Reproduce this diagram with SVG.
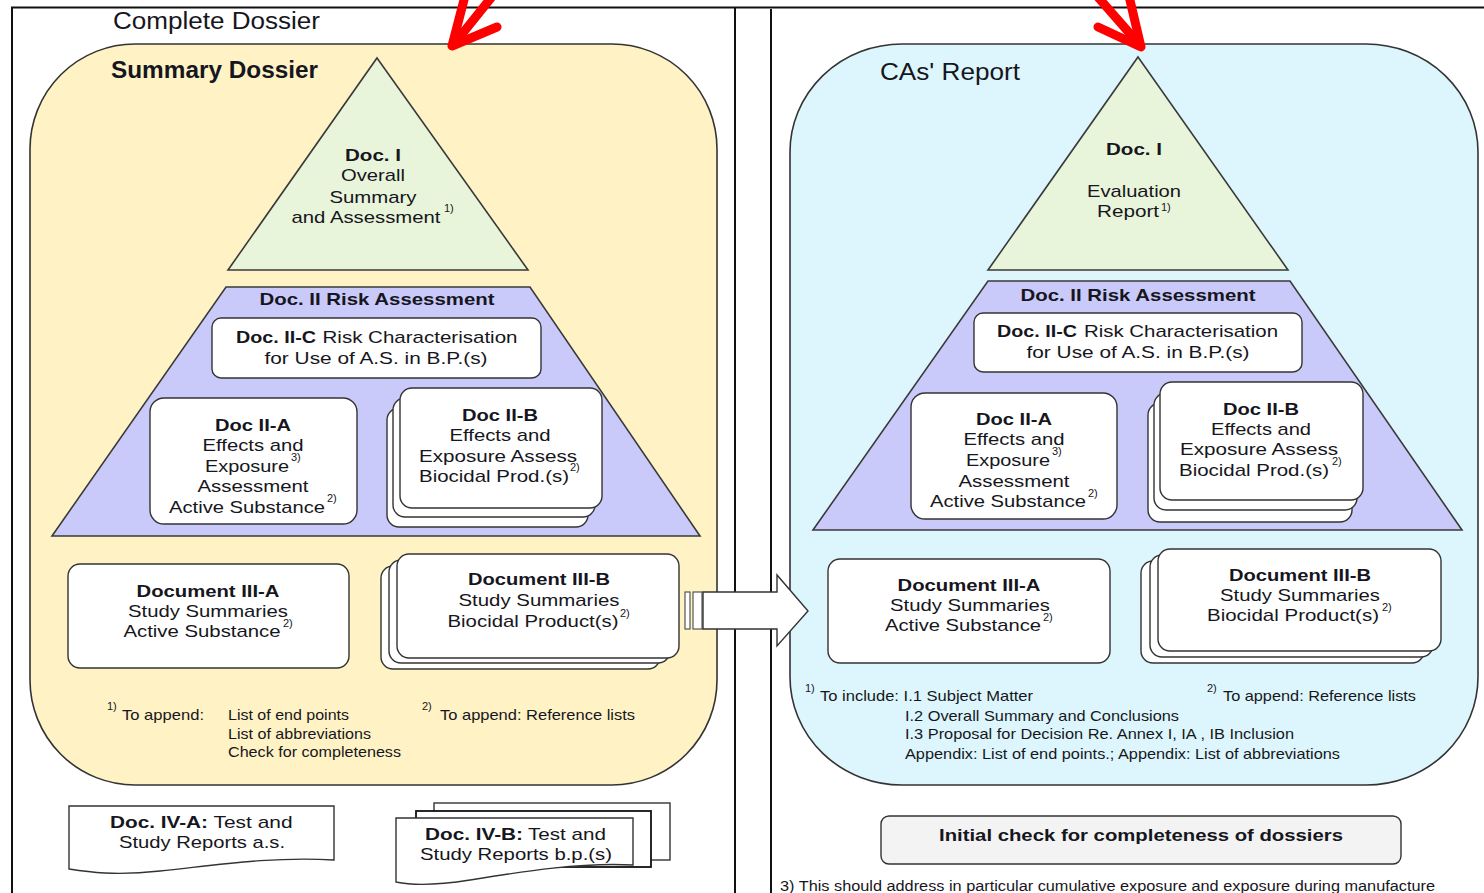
<svg xmlns="http://www.w3.org/2000/svg" width="1484" height="893" viewBox="0 0 1484 893">
<style>
text{font-family:"Liberation Sans",Arial,sans-serif;fill:#161620;}
.t{font-size:17px;text-anchor:middle;}
.b{font-weight:bold;}
.s{font-size:11px;}
.f{font-size:15px;}
.ttl{font-size:23px;}
.box{fill:#fff;stroke:#333;stroke-width:1.4;}
.tri{fill:#E9F5DA;stroke:#3a3a3a;stroke-width:1.6;}
.trap{fill:#CACAFA;stroke:#3a3a3a;stroke-width:1.6;}
.frame{stroke:#111;stroke-width:2;fill:none;}
.red{stroke:#FF0000;stroke-width:9;fill:none;stroke-linecap:round;stroke-linejoin:round;}
</style>
<rect width="1484" height="893" fill="#fff"/>
<g id="frames">
<path class="frame" d="M12,893 V7.5 H1484 M735,7.5 V893 M771,9 V893"/>
</g>
<g id="panel-left">
<text class="ttl" x="113" y="29" textLength="207" lengthAdjust="spacingAndGlyphs">Complete Dossier</text>
<rect x="30" y="44" width="687" height="741" rx="105" ry="105" fill="#FFF3C6" stroke="#333" stroke-width="1.6"/>
<text class="ttl b" x="111" y="78" textLength="207" lengthAdjust="spacingAndGlyphs">Summary Dossier</text>
</g>
<g id="doc1-left">
<polygon class="tri" points="377,58 528,270 228,270"/>
<text class="t b" x="373" y="161" textLength="56" lengthAdjust="spacingAndGlyphs">Doc. I</text>
<text class="t" x="373" y="181" textLength="64" lengthAdjust="spacingAndGlyphs">Overall</text>
<text class="t" x="373" y="203" textLength="87" lengthAdjust="spacingAndGlyphs">Summary</text>
<text class="t" x="366" y="223" textLength="149" lengthAdjust="spacingAndGlyphs">and Assessment</text>
<text class="s" x="444" y="212">1)</text>
</g>
<g id="doc2-left">
<polygon class="trap" points="226,287 530,287 700,536 52,536"/>
<text class="t b" x="377" y="305" textLength="235" lengthAdjust="spacingAndGlyphs">Doc. II Risk Assessment</text>
</g>
<g id="doc2c-left">
<rect class="box" x="212" y="318" width="329" height="60" rx="9"/>
<text class="t b" x="276" y="343" textLength="80" lengthAdjust="spacingAndGlyphs">Doc. II-C</text>
<text class="t" x="420" y="343" textLength="195" lengthAdjust="spacingAndGlyphs">Risk Characterisation</text>
<text class="t" x="376" y="364" textLength="223" lengthAdjust="spacingAndGlyphs">for Use of A.S. in B.P.(s)</text>
</g>
<g id="doc2a-left">
<rect class="box" x="150" y="398" width="207" height="126" rx="14"/>
<text class="t b" x="253" y="431" textLength="76" lengthAdjust="spacingAndGlyphs">Doc II-A</text>
<text class="t" x="253" y="451" textLength="101" lengthAdjust="spacingAndGlyphs">Effects and</text>
<text class="t" x="247" y="472" textLength="84" lengthAdjust="spacingAndGlyphs">Exposure</text>
<text class="s" x="291" y="461">3)</text>
<text class="t" x="253" y="492" textLength="111" lengthAdjust="spacingAndGlyphs">Assessment</text>
<text class="t" x="247" y="513" textLength="156" lengthAdjust="spacingAndGlyphs">Active Substance</text>
<text class="s" x="327" y="502">2)</text>
</g>
<g id="doc2b-left">
<rect class="box" x="387" y="408" width="201" height="119" rx="12"/>
<rect class="box" x="393" y="398" width="202" height="119" rx="12"/>
<rect class="box" x="400" y="388" width="202" height="120" rx="12"/>
<text class="t b" x="500" y="421" textLength="76" lengthAdjust="spacingAndGlyphs">Doc II-B</text>
<text class="t" x="500" y="441" textLength="101" lengthAdjust="spacingAndGlyphs">Effects and</text>
<text class="t" x="498" y="462" textLength="158" lengthAdjust="spacingAndGlyphs">Exposure Assess</text>
<text class="s" x="570" y="471">2)</text>
<text class="t" x="494" y="482" textLength="150" lengthAdjust="spacingAndGlyphs">Biocidal Prod.(s)</text>
</g>
<g id="doc3a-left">
<rect class="box" x="68" y="564" width="281" height="104" rx="12"/>
<text class="t b" x="208" y="597" textLength="143" lengthAdjust="spacingAndGlyphs">Document III-A</text>
<text class="t" x="208" y="617" textLength="160" lengthAdjust="spacingAndGlyphs">Study Summaries</text>
<text class="t" x="202" y="637" textLength="157" lengthAdjust="spacingAndGlyphs">Active Substance</text>
<text class="s" x="283" y="627">2)</text>
</g>
<g id="doc3b-left">
<rect class="box" x="381" y="566" width="279" height="103" rx="12"/>
<rect class="box" x="389" y="560" width="281" height="103" rx="12"/>
<rect class="box" x="397" y="554" width="282" height="104" rx="12"/>
<text class="t b" x="539" y="585" textLength="142" lengthAdjust="spacingAndGlyphs">Document III-B</text>
<text class="t" x="539" y="606" textLength="161" lengthAdjust="spacingAndGlyphs">Study Summaries</text>
<text class="t" x="533" y="627" textLength="171" lengthAdjust="spacingAndGlyphs">Biocidal Product(s)</text>
<text class="s" x="620" y="617">2)</text>
</g>
<g id="notes-left">
<text class="s" x="107" y="710">1)</text>
<text class="f" x="122" y="720" textLength="82" lengthAdjust="spacingAndGlyphs">To append:</text>
<text class="f" x="228" y="720" textLength="121" lengthAdjust="spacingAndGlyphs">List of end points</text>
<text class="f" x="228" y="739" textLength="143" lengthAdjust="spacingAndGlyphs">List of abbreviations</text>
<text class="f" x="228" y="757" textLength="173" lengthAdjust="spacingAndGlyphs">Check for completeness</text>
<text class="s" x="422" y="710">2)</text>
<text class="f" x="440" y="720" textLength="195" lengthAdjust="spacingAndGlyphs">To append: Reference lists</text>
</g>
<g id="doc4a">
<path class="box" d="M69,806 H334 V860 C270,856 210,866 160,871 C115,876 88,872 69,869 Z"/>
<text class="t b" x="159" y="828" textLength="98" lengthAdjust="spacingAndGlyphs">Doc. IV-A:</text>
<text class="t" x="253" y="828" textLength="79" lengthAdjust="spacingAndGlyphs">Test and</text>
<text class="t" x="202" y="848" textLength="166" lengthAdjust="spacingAndGlyphs">Study Reports a.s.</text>
</g>
<g id="doc4b">
<rect class="box" x="434" y="803" width="236" height="57"/>
<rect x="416" y="811" width="235" height="56" fill="#fff" stroke="#111" stroke-width="1.8"/>
<path class="box" d="M396,818 H633 V865 C580,862 520,872 470,880 C432,886 410,885 396,882 Z"/>
<text class="t b" x="474" y="840" textLength="98" lengthAdjust="spacingAndGlyphs">Doc. IV-B:</text>
<text class="t" x="567" y="840" textLength="78" lengthAdjust="spacingAndGlyphs">Test and</text>
<text class="t" x="516" y="860" textLength="192" lengthAdjust="spacingAndGlyphs">Study Reports b.p.(s)</text>
</g>
<g id="panel-right">
<rect x="790" y="44" width="688" height="741" rx="112" ry="108" fill="#DDF6FD" stroke="#333" stroke-width="1.6"/>
<text class="ttl" x="880" y="80" textLength="140" lengthAdjust="spacingAndGlyphs">CAs' Report</text>
</g>
<g id="doc1-right">
<polygon class="tri" points="1138,57 1288,270 988,270"/>
<text class="t b" x="1134" y="155" textLength="56" lengthAdjust="spacingAndGlyphs">Doc. I</text>
<text class="t" x="1134" y="197" textLength="94" lengthAdjust="spacingAndGlyphs">Evaluation</text>
<text class="t" x="1128" y="217" textLength="62" lengthAdjust="spacingAndGlyphs">Report</text>
<text class="s" x="1161" y="211">1)</text>
</g>
<g id="doc2-right">
<polygon class="trap" points="988,281 1290,281 1462,530 813,530"/>
<text class="t b" x="1138" y="301" textLength="235" lengthAdjust="spacingAndGlyphs">Doc. II Risk Assessment</text>
</g>
<g id="doc2c-right">
<rect class="box" x="974" y="313" width="328" height="59" rx="9"/>
<text class="t b" x="1037" y="337" textLength="80" lengthAdjust="spacingAndGlyphs">Doc. II-C</text>
<text class="t" x="1181" y="337" textLength="194" lengthAdjust="spacingAndGlyphs">Risk Characterisation</text>
<text class="t" x="1138" y="358" textLength="223" lengthAdjust="spacingAndGlyphs">for Use of A.S. in B.P.(s)</text>
</g>
<g id="doc2a-right">
<rect class="box" x="911" y="393" width="206" height="126" rx="14"/>
<text class="t b" x="1014" y="425" textLength="76" lengthAdjust="spacingAndGlyphs">Doc II-A</text>
<text class="t" x="1014" y="445" textLength="101" lengthAdjust="spacingAndGlyphs">Effects and</text>
<text class="t" x="1008" y="466" textLength="84" lengthAdjust="spacingAndGlyphs">Exposure</text>
<text class="s" x="1052" y="455">3)</text>
<text class="t" x="1014" y="487" textLength="111" lengthAdjust="spacingAndGlyphs">Assessment</text>
<text class="t" x="1008" y="507" textLength="156" lengthAdjust="spacingAndGlyphs">Active Substance</text>
<text class="s" x="1088" y="497">2)</text>
</g>
<g id="doc2b-right">
<rect class="box" x="1148" y="403" width="204" height="119" rx="12"/>
<rect class="box" x="1154" y="393" width="203" height="117" rx="12"/>
<rect class="box" x="1160" y="382" width="203" height="118" rx="12"/>
<text class="t b" x="1261" y="415" textLength="76" lengthAdjust="spacingAndGlyphs">Doc II-B</text>
<text class="t" x="1261" y="435" textLength="100" lengthAdjust="spacingAndGlyphs">Effects and</text>
<text class="t" x="1259" y="455" textLength="158" lengthAdjust="spacingAndGlyphs">Exposure Assess</text>
<text class="t" x="1254" y="476" textLength="150" lengthAdjust="spacingAndGlyphs">Biocidal Prod.(s)</text>
<text class="s" x="1332" y="465">2)</text>
</g>
<g id="doc3a-right">
<rect class="box" x="828" y="559" width="282" height="104" rx="12"/>
<text class="t b" x="969" y="591" textLength="143" lengthAdjust="spacingAndGlyphs">Document III-A</text>
<text class="t" x="970" y="611" textLength="160" lengthAdjust="spacingAndGlyphs">Study Summaries</text>
<text class="t" x="963" y="631" textLength="156" lengthAdjust="spacingAndGlyphs">Active Substance</text>
<text class="s" x="1043" y="621">2)</text>
</g>
<g id="doc3b-right">
<rect class="box" x="1141" y="561" width="283" height="102" rx="12"/>
<rect class="box" x="1150" y="555" width="283" height="102" rx="12"/>
<rect class="box" x="1158" y="549" width="283" height="102" rx="12"/>
<text class="t b" x="1300" y="581" textLength="142" lengthAdjust="spacingAndGlyphs">Document III-B</text>
<text class="t" x="1300" y="601" textLength="160" lengthAdjust="spacingAndGlyphs">Study Summaries</text>
<text class="t" x="1293" y="621" textLength="172" lengthAdjust="spacingAndGlyphs">Biocidal Product(s)</text>
<text class="s" x="1382" y="611">2)</text>
</g>
<g id="notes-right">
<text class="s" x="805" y="692">1)</text>
<text class="f" x="820" y="701" textLength="213" lengthAdjust="spacingAndGlyphs">To include: I.1 Subject Matter</text>
<text class="f" x="905" y="721" textLength="274" lengthAdjust="spacingAndGlyphs">I.2 Overall Summary and Conclusions</text>
<text class="f" x="905" y="739" textLength="389" lengthAdjust="spacingAndGlyphs">I.3 Proposal for Decision Re. Annex I, IA , IB Inclusion</text>
<text class="f" x="905" y="759" textLength="435" lengthAdjust="spacingAndGlyphs">Appendix: List of end points.; Appendix: List of abbreviations</text>
<text class="s" x="1207" y="692">2)</text>
<text class="f" x="1223" y="701" textLength="193" lengthAdjust="spacingAndGlyphs">To append: Reference lists</text>
</g>
<g id="initial-check">
<rect x="881" y="816" width="520" height="48" rx="8" fill="#F3F3F3" stroke="#333" stroke-width="1.4"/>
<text class="t b" x="1141" y="841" textLength="404" lengthAdjust="spacingAndGlyphs">Initial check for completeness of dossiers</text>
</g>
<g id="footnote3">
<text x="780" y="891" font-size="14" textLength="655" lengthAdjust="spacingAndGlyphs">3) This should address in particular cumulative exposure and exposure during manufacture</text>
</g>
<g id="connectors">
<rect x="685" y="592" width="5" height="37" fill="#fff" stroke="#555" stroke-width="1.2"/>
<rect x="693" y="592" width="9" height="37" fill="#fff" stroke="#555" stroke-width="1.2"/>
<polygon points="703,592 777,592 777,575 808,611 777,646 777,629 703,629" fill="#fff" stroke="#333" stroke-width="1.4"/>
<path class="red" d="M499,-12 L454,44"/>
<path class="red" d="M465,-4 L452,46 L497,27"/>
<path class="red" d="M1090,-12 L1139,44"/>
<path class="red" d="M1129,-4 L1141,47 L1098,27"/>
</g>
</svg>
